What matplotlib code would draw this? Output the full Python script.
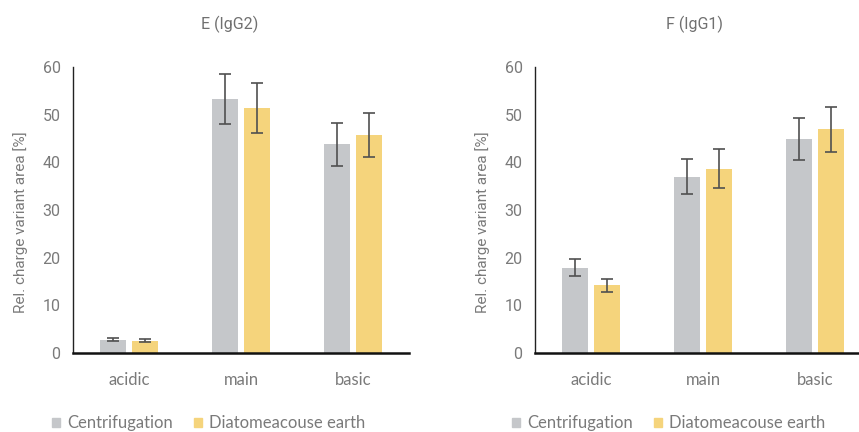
import numpy as np
import matplotlib
matplotlib.use("Agg")
import matplotlib.pyplot as plt
from matplotlib.patches import Patch

categories = ["acidic", "main", "basic"]
series = ["Centrifugation", "Diatomeacouse earth"]

# panel E (IgG2)
e_centri = [2.8, 53.3, 43.8]
e_centri_err = [0.3, 5.3, 4.5]
e_diato = [2.6, 51.4, 45.7]
e_diato_err = [0.3, 5.2, 4.6]

# panel F (IgG1)
f_centri = [17.9, 37.0, 44.9]
f_centri_err = [1.8, 3.7, 4.5]
f_diato = [14.2, 38.7, 46.9]
f_diato_err = [1.4, 4.0, 4.7]

GRAY = "#c5c7ca"
YELLOW = "#f5d47c"
TXT = "#7a7a7a"

fig = plt.figure(figsize=(8.59, 4.32), dpi=100)


def panel(rect, title, title_x, centri, centri_err, diato, diato_err, ylab_x):
    ax = fig.add_axes(rect)
    x = np.arange(len(categories))
    w = 0.23
    off = 0.145
    ek = dict(ecolor="#505050", elinewidth=1.2, capsize=4, capthick=1.2)
    ax.bar(x - off, centri, w, color=GRAY, yerr=centri_err, error_kw=ek)
    ax.bar(x + off, diato, w, color=YELLOW, yerr=diato_err, error_kw=ek)
    ax.set_xlim(-0.5, 2.5)
    ax.set_ylim(0, 60)
    ax.set_yticks(range(0, 61, 10))
    ax.set_xticks(x)
    ax.set_xticklabels(categories, fontsize=12, color=TXT, family="Lato")
    for lab in ax.get_yticklabels():
        lab.set_fontsize(11.5)
        lab.set_color(TXT)
        lab.set_family("Roboto")
    ax.tick_params(axis="x", length=0, pad=14)
    ax.tick_params(axis="y", length=0, pad=9)
    ax.spines["top"].set_visible(False)
    ax.spines["right"].set_visible(False)
    ax.spines["left"].set_linewidth(1.0)
    ax.spines["bottom"].set_linewidth(1.8)
    ax.spines["left"].set_color("#222222")
    ax.spines["bottom"].set_color("#111111")
    fig.text(ylab_x, 1 - 222 / 432, "Rel. charge variant area [%]", rotation=90,
             ha="center", va="center", fontsize=11, color=TXT, family="Roboto")
    fig.text(title_x, 1 - 24 / 432, title, ha="center", va="center",
             fontsize=11.5, color="#707070", family="Roboto")
    return ax


panel([73 / 859, 1 - 353 / 432, 336 / 859, 286 / 432], "E (IgG2)", 230 / 859,
      e_centri, e_centri_err, e_diato, e_diato_err, 21 / 859)
panel([535 / 859, 1 - 353 / 432, 336 / 859, 286 / 432], "F (IgG1)", 694 / 859,
      f_centri, f_centri_err, f_diato, f_diato_err, 483 / 859)

handles = [Patch(color=GRAY), Patch(color=YELLOW)]
for lx in [37 / 859, 497 / 859]:
    fig.legend(handles, series, loc="center left", bbox_to_anchor=(lx, 1 - 423 / 432),
               ncol=2, frameon=False, handlelength=0.45, handleheight=0.45,
               handletextpad=0.45, columnspacing=1.3,
               prop={"family": "Lato", "size": 12}, labelcolor=TXT)

fig.savefig("out.png", dpi=100)
